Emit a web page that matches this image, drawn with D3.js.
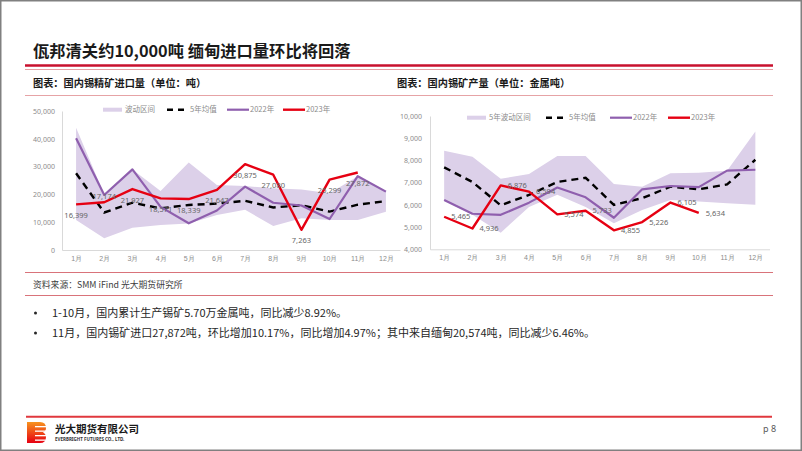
<!DOCTYPE html>
<html><head><meta charset="utf-8">
<script src="https://cdn.jsdelivr.net/npm/d3@7"></script>
<style>
body{margin:0;background:#fff;}
svg{display:block;font-family:"Noto Sans CJK SC","Noto Sans",sans-serif;}
</style>
</head><body>
<svg id="c" width="802" height="451"></svg>
<script>
// ---------------- data ----------------
const months = ["1月","2月","3月","4月","5月","6月","7月","8月","9月","10月","11月","12月"];

// 国内锡精矿进口量（吨）
const importTicks = [0, 10000, 20000, 30000, 40000, 50000];
const importBandMin = [10800, 4200, 8000, 9000, 9500, 12600, 14500, 8600, 11400, 10800, 10800, 13800];
const importBandMax = [44000, 20000, 29000, 21200, 31500, 23400, 23000, 22200, 21800, 20400, 26552, 21200];
const importAvg     = [27600, 13500, 17000, 15000, 16200, 16700, 17700, 15300, 16100, 13800, 16300, 17600];
const import2022    = [40200, 19800, 29000, 15500, 9600, 14200, 22800, 17000, 16000, 11150, 26552, 21000];
const import2023    = [16399, 17174, 21927, 18571, 18339, 21647, 30875, 27080, 7263, 25299, 27872];

// 国内锡矿产量（金属吨）
const prodTicks = [4000, 5000, 6000, 7000, 8000, 9000, 10000];
const prodBandMin = [6200, 5550, 4750, 5900, 6450, 5900, 5170, 5770, 6220, 6150, 6070, 6000];
const prodBandMax = [8440, 8170, 7170, 7390, 8200, 8200, 6940, 6820, 7420, 7450, 7540, 9300];
const prodAvg     = [7690, 7030, 5980, 6450, 7030, 7220, 6000, 6300, 6820, 6700, 6920, 8030];
const prod2022    = [6220, 5600, 5550, 6100, 6780, 6340, 5420, 6700, 6850, 6800, 7540, 7580];
const prod2023    = [5465, 4936, 6876, 6594, 5574, 5733, 4855, 5226, 6105, 5634];

const title = "佤邦清关约10,000吨 缅甸进口量环比将回落";
const sub1 = "图表：国内锡精矿进口量（单位：吨）";
const sub2 = "图表：国内锡矿产量（单位：金属吨）";
const legend1 = ["波动区间", "5年均值", "2022年", "2023年"];
const legend2 = ["5年波动区间", "5年均值", "2022年", "2023年"];
const sourceText = "资料来源：SMM iFind 光大期货研究所";
const bullets = [
  "1-10月，国内累计生产锡矿5.70万金属吨，同比减少8.92%。",
  "11月，国内锡矿进口27,872吨，环比增加10.17%，同比增加4.97%；其中来自缅甸20,574吨，同比减少6.46%。"
];

// ---------------- styles ----------------
const C = {band:"#dcd0e9", purple:"#8f5fae", red:"#e60012", black:"#000", axis:"#d9d9d9", tick:"#8c8c8c", label:"#666"};

const svg = d3.select("#c");
svg.append("rect").attr("x",0.75).attr("y",0.75).attr("width",800.5).attr("height",449.5)
  .attr("fill","#fff").attr("stroke","#808080").attr("stroke-width",1.5);

// header
svg.append("text").attr("x",33).attr("y",57).attr("font-size",16.3).attr("font-weight","bold")
  .attr("fill","#1a1a1a").text(title);
svg.append("line").attr("x1",25).attr("x2",773).attr("y1",65.5).attr("y2",65.5).attr("stroke","#c8102e").attr("stroke-width",2.5);
svg.append("line").attr("x1",25).attr("x2",773).attr("y1",69.5).attr("y2",69.5).attr("stroke","#e8a0a4").attr("stroke-width",1);
svg.append("text").attr("x",33).attr("y",87).attr("font-size",10.2).attr("font-weight","bold").attr("fill","#1a1a1a").text(sub1);
svg.append("text").attr("x",397).attr("y",87).attr("font-size",10.2).attr("font-weight","bold").attr("fill","#1a1a1a").text(sub2);
svg.append("line").attr("x1",25).attr("x2",773).attr("y1",95.5).attr("y2",95.5).attr("stroke","#e6a3a6").attr("stroke-width",1);

function drawChart(cfg){
  const g = svg.append("g");
  const x = d3.scalePoint().domain(months).range([cfg.x0, cfg.x1]).padding(0.5);
  const y = d3.scaleLinear().domain(cfg.domain).range([cfg.yB, cfg.yT]);
  const xi = (d,i)=>x(months[i]);

  // band
  g.append("path").datum(cfg.bandMin.map((v,i)=>[v,cfg.bandMax[i]]))
    .attr("fill",C.band)
    .attr("d", d3.area().x(xi).y0(d=>y(d[0])).y1(d=>y(d[1])));

  // axes
  const ya = g.append("g").attr("transform",`translate(${cfg.x0},0)`)
    .call(d3.axisLeft(y).tickValues(cfg.ticks).tickSize(0).tickPadding(cfg.yPad).tickFormat(d3.format(",")));
  ya.select(".domain").attr("stroke",C.axis);
  ya.selectAll("text").attr("fill",C.tick).attr("font-size",7).attr("font-family","Noto Sans, sans-serif");
  const xa = g.append("g").attr("transform",`translate(0,${cfg.yB})`)
    .call(d3.axisBottom(x).tickSize(0).tickPadding(6));
  xa.select(".domain").attr("stroke",C.axis);
  xa.selectAll("text").attr("fill",C.tick).attr("font-size",7);

  const line = d3.line().x(xi).y(d=>y(d));
  g.append("path").datum(cfg.avg).attr("fill","none").attr("stroke",C.black).attr("stroke-width",2.4)
    .attr("stroke-dasharray","7,5").attr("d",line);
  g.append("path").datum(cfg.y2022).attr("fill","none").attr("stroke",C.purple).attr("stroke-width",2.2)
    .attr("stroke-linejoin","round").attr("d",line);
  g.append("path").datum(cfg.y2023).attr("fill","none").attr("stroke",C.red).attr("stroke-width",2.4)
    .attr("stroke-linejoin","round").attr("d",line);

  // data labels
  g.selectAll(".dl").data(cfg.y2023).enter().append("text")
    .attr("font-size",7.5).attr("fill",C.label).attr("font-family","Noto Sans, sans-serif")
    .each(function(d,i){
      const t = d3.select(this);
      const px = xi(d,i), py = y(d);
      if(cfg.labelSide==="right"){
        t.attr("x",px+7).attr("y",py+2.7).attr("text-anchor","start");
      } else {
        const above = months[i]==="2月";
        t.attr("x",px).attr("y",above? py-3 : py+13.5).attr("text-anchor","middle");
      }
    })
    .text(d=>d3.format(",")(d));

  // legend
  const lg = g.append("g").attr("font-size",7.5).attr("fill",C.tick);
  const L = cfg.legend;
  lg.append("rect").attr("x",L[0]).attr("y",cfg.ly-2).attr("width",19).attr("height",4).attr("fill",C.band);
  lg.append("text").attr("x",L[0]+22).attr("y",cfg.ly+2.6).text(cfg.legendText[0]);
  lg.append("line").attr("x1",L[1]).attr("x2",L[1]+20).attr("y1",cfg.ly).attr("y2",cfg.ly)
    .attr("stroke",C.black).attr("stroke-width",2.4).attr("stroke-dasharray","6,5");
  lg.append("text").attr("x",L[1]+23).attr("y",cfg.ly+2.6).text(cfg.legendText[1]);
  lg.append("line").attr("x1",L[2]).attr("x2",L[2]+22).attr("y1",cfg.ly).attr("y2",cfg.ly)
    .attr("stroke",C.purple).attr("stroke-width",2.2);
  lg.append("text").attr("x",L[2]+23).attr("y",cfg.ly+2.6).text(cfg.legendText[2]);
  lg.append("line").attr("x1",L[3]).attr("x2",L[3]+22).attr("y1",cfg.ly).attr("y2",cfg.ly)
    .attr("stroke",C.red).attr("stroke-width",2.4);
  lg.append("text").attr("x",L[3]+23).attr("y",cfg.ly+2.6).text(cfg.legendText[3]);
}

drawChart({x0:62, x1:400, yB:250, yT:111, domain:[0,50000], ticks:importTicks, yPad:7,
  bandMin:importBandMin, bandMax:importBandMax, avg:importAvg, y2022:import2022, y2023:import2023,
  labelSide:"below", legend:[103,167,227,283], legendText:legend1, ly:109.7});
drawChart({x0:430, x1:769.5, yB:249.3, yT:116, domain:[4000,10000], ticks:prodTicks, yPad:8,
  bandMin:prodBandMin, bandMax:prodBandMax, avg:prodAvg, y2022:prod2022, y2023:prod2023,
  labelSide:"right", legend:[467,546,610,668], legendText:legend2, ly:117.7});

// source
svg.append("line").attr("x1",25).attr("x2",773).attr("y1",272.5).attr("y2",272.5).attr("stroke","#d9737a").attr("stroke-width",1.2);
svg.append("text").attr("x",33).attr("y",288).attr("font-size",8.8).attr("fill","#404040").text(sourceText);
svg.append("line").attr("x1",25).attr("x2",773).attr("y1",295.5).attr("y2",295.5).attr("stroke","#d9737a").attr("stroke-width",1.2);

bullets.forEach((b,i)=>{
  const yy = 316.8 + i*20;
  svg.append("circle").attr("cx",35.5).attr("cy",yy-3.8).attr("r",1.5).attr("fill","#262626");
  svg.append("text").attr("x",52).attr("y",yy).attr("font-size",11).attr("fill","#262626").text(b);
});

// footer
svg.append("line").attr("x1",26).attr("x2",772).attr("y1",416.7).attr("y2",416.7).attr("stroke","#e0383e").attr("stroke-width",2);
const defs = svg.append("defs");
const gr = defs.append("linearGradient").attr("id","lg").attr("x1",0).attr("y1",0).attr("x2",0).attr("y2",1);
gr.append("stop").attr("offset","0%").attr("stop-color","#f7931e");
gr.append("stop").attr("offset","100%").attr("stop-color","#e60012");
svg.append("path").attr("fill","url(#lg)")
  .attr("d","M27,422 L40,422 Q46,422 46,428 Q46,431 43,432.5 Q46,434 46,437 Q46,443 40,443 L27,443 Z");
[426,430.5,435,439.5].forEach(yy=>{
  svg.append("rect").attr("x",35).attr("y",yy).attr("width",12).attr("height",1.3).attr("fill","#fff");
});
svg.append("text").attr("x",55).attr("y",433).attr("font-size",10.5).attr("font-weight","bold").attr("fill","#1a1a1a").text("光大期货有限公司");
svg.append("text").attr("x",55).attr("y",440.5).attr("font-size",4.5).attr("font-weight","bold").attr("fill","#333").attr("font-family","Noto Sans, sans-serif").text("EVERBRIGHT FUTURES CO., LTD.");
svg.append("text").attr("x",763).attr("y",432).attr("font-size",9).attr("fill","#595959").attr("font-family","Noto Sans, sans-serif").text("p 8");
</script>
</body></html>
